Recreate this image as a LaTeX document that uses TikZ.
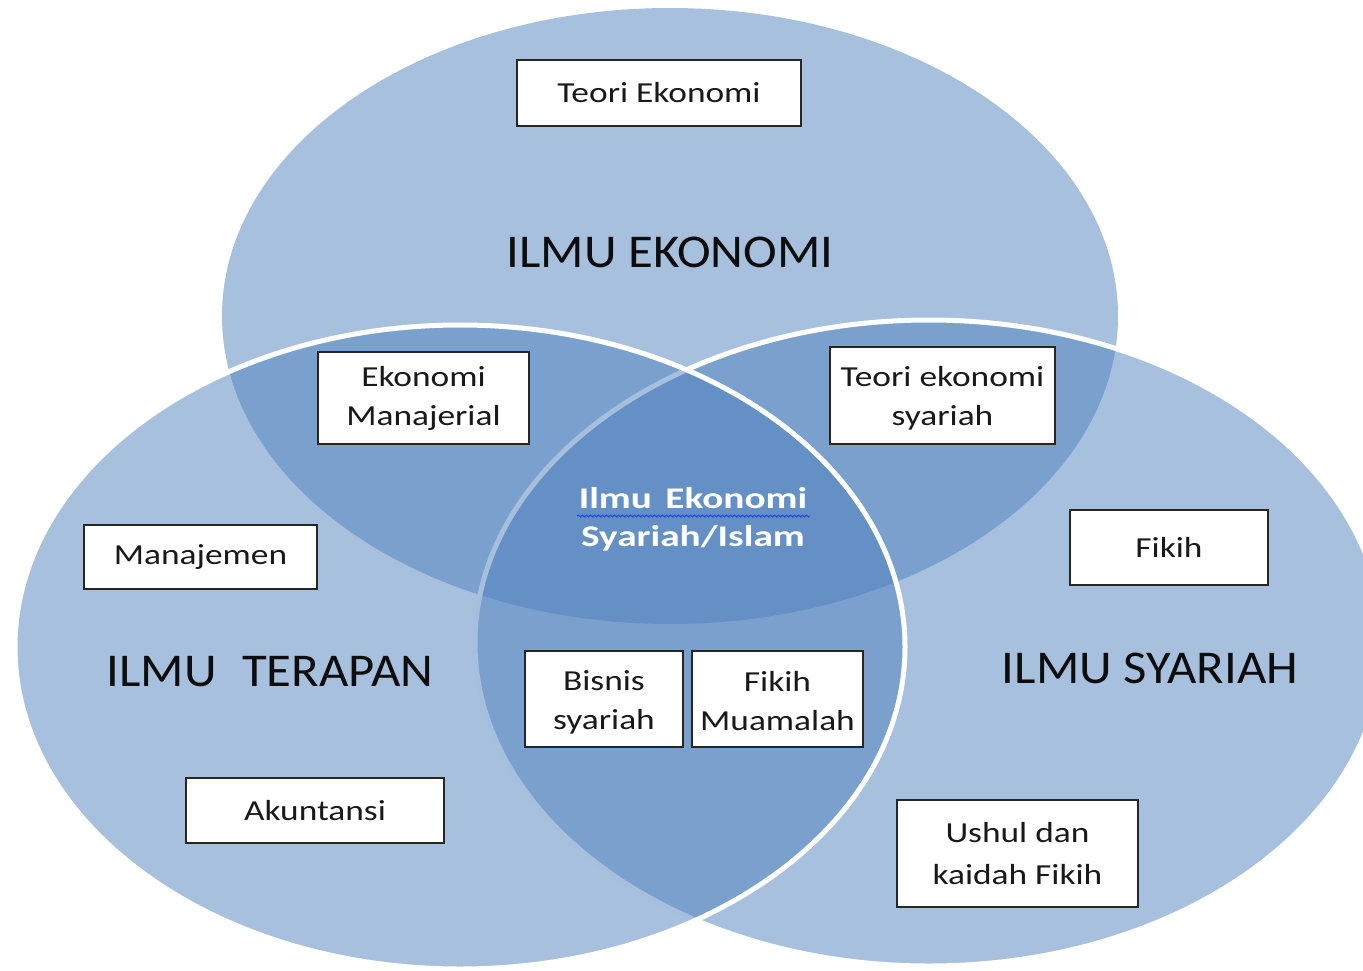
\documentclass[tikz,border=0pt]{standalone}
\usepackage{fontspec}
\setmainfont{Carlito}
\newfontfamily\boxfont[FakeStretch=1.22]{Carlito}
\newfontfamily\midfont[FakeStretch=1.31]{Carlito}
\newfontfamily\bigfont[FakeStretch=1.08]{Carlito}
\usetikzlibrary{decorations.pathmorphing}
\definecolor{vennblue}{HTML}{4F81BD}
\definecolor{boxline}{HTML}{262626}
\definecolor{spellblue}{HTML}{1F3FE0}
\begin{document}
\begin{tikzpicture}[x=1pt,y=-1pt,
  venn/.style={fill=vennblue, fill opacity=0.5},
  vennline/.style={draw=white, line width=5pt},
  tbox/.style={draw=boxline, line width=1.6pt, fill=white, align=center, inner sep=0pt, text=black!90,
    font=\boxfont\fontsize{29}{39}\selectfont},
  btext/.style={align=center, inner sep=0pt, text=black!90, font=\boxfont\fontsize{29}{39}\selectfont},
  biglabel/.style={font=\bigfont\fontsize{47}{56}\selectfont, text=black!95},
  midlabel/.style={font=\midfont\bfseries\fontsize{30}{38}\selectfont, text=white, align=center}
]
\useasboundingbox (0,0) rectangle (1363,970);
\clip (0,0) rectangle (1363,970);
% circles
\fill[venn] (670,316) ellipse [x radius=448, y radius=308];
\filldraw[venn, vennline] (929,643) ellipse [x radius=454, y radius=323];
\filldraw[venn, vennline] (460,647) ellipse [x radius=445, y radius=322];
% big labels
\node[biglabel] (ekonomi) at (670,252) {ILMU EKONOMI};
\node[biglabel] (terapan) at (270,672) {ILMU\hspace{0.3em} TERAPAN};
\node[biglabel] (syariah) at (1150,668) {ILMU SYARIAH};
% centre label
\node[midlabel] (tengah) at (693,519) {Ilmu\hspace{0.15em} Ekonomi\\Syariah/Islam};
\coordinate (ul1) at (577,516);
\coordinate (ul2) at (810,516);
\draw[spellblue, line width=0.9pt, decorate, decoration={snake, amplitude=1.1pt, segment length=4pt}] (ul1) -- (ul2);
% boxes
\node[tbox, minimum width=284, minimum height=66] (teori) at (659,93) {Teori Ekonomi};
\node[tbox, minimum width=211, minimum height=92] (manajerial) at (423.5,398) {Ekonomi\\Manajerial};
\node[tbox, minimum width=225, minimum height=97] (teorisyariah) at (942.5,395.5) {};
\node[btext] (teorisyariahT) at ([yshift=-3pt]teorisyariah.center) {Teori ekonomi\\syariah};
\node[tbox, minimum width=233, minimum height=64] (manajemen) at (200.5,557) {Manajemen};
\node[tbox, minimum width=198, minimum height=75] (fikih) at (1169,547.5) {Fikih};
\node[tbox, minimum width=158, minimum height=96] (bisnis) at (604,699) {};
\node[btext] (bisnisT) at ([yshift=-3.5pt]bisnis.center) {Bisnis\\syariah};
\node[tbox, minimum width=171, minimum height=96] (muamalah) at (777.5,699) {};
\node[btext] (muamalahT) at ([yshift=-2pt]muamalah.center) {Fikih\\Muamalah};
\node[tbox, minimum width=258, minimum height=65] (akuntansi) at (315,810.5) {Akuntansi};
\node[tbox, minimum width=241, minimum height=107, font=\boxfont\fontsize{29}{42}\selectfont] (ushul) at (1017.5,853.5) {Ushul dan\\kaidah Fikih};
\end{tikzpicture}
\end{document}
